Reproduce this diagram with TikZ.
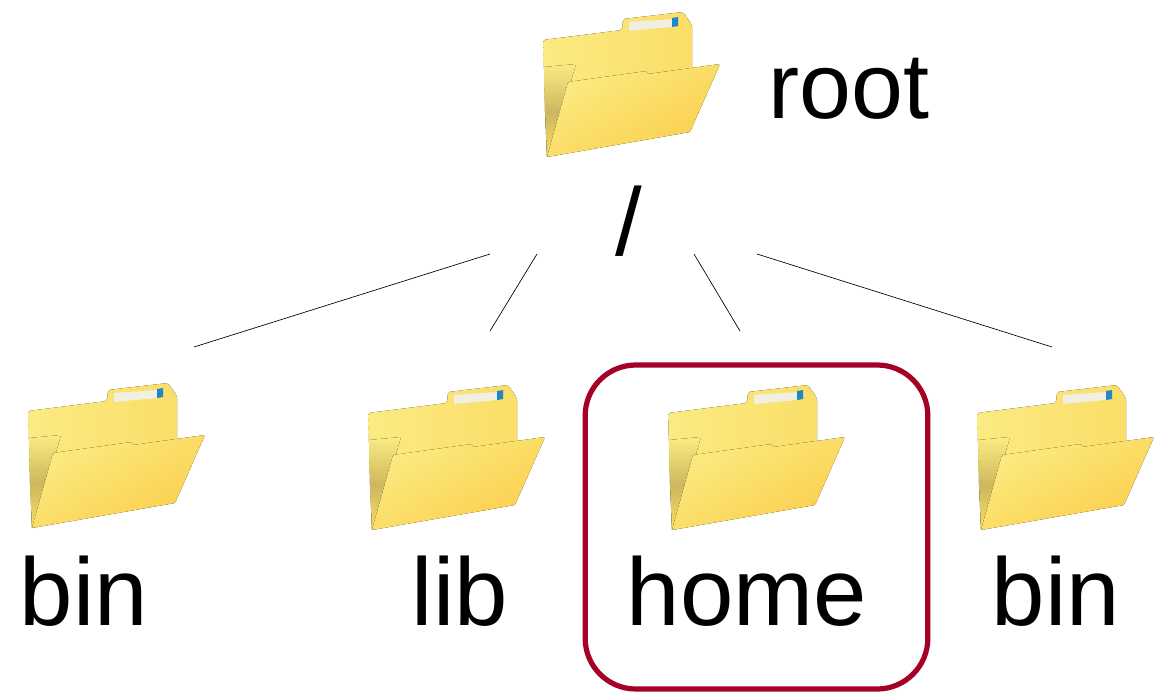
\documentclass[tikz,border=0pt]{standalone}
\usepackage{fontspec}
\setmainfont{Liberation Sans}
\definecolor{boxred}{HTML}{A50026}
\definecolor{folderlight}{HTML}{FBEB82}
\definecolor{folderback}{HTML}{FBDD68}
\definecolor{folderdark}{HTML}{FBCF4C}
\definecolor{foldershade}{HTML}{CDB75E}
\definecolor{foldertag}{HTML}{F1EFE2}
\definecolor{foldermark}{HTML}{1F86C8}
\tikzset{
  foldericon/.pic = {
    % back sheet, tab on top
    \fill [left color=folderlight, right color=folderback, rounded corners=1.5]
      (1,28) -- (80,18) -- (81,7) -- (141,0) -- (150,13) -- (150,60) -- (26,75) -- (5,145) -- cycle;
    \fill [top color=folderlight, bottom color=foldershade]
      (2,55) -- (34,52) -- (20,100) -- (3,100) -- cycle;
    \fill [top color=foldershade, bottom color=folderback]
      (3,100) -- (20,100) -- (5,145) -- cycle;
    \fill [foldertag] (87,10) -- (130,7) -- (130,15) -- (87,19) -- cycle;
    \fill [foldermark] (130,6) -- (136,5) -- (136,14) -- (130,15) -- cycle;
    % front flap
    \fill [top color=folderlight, bottom color=folderdark, shading angle=30, rounded corners=1]
      (26,70) -- (105,59) -- (106,62) -- (178,52) -- (148,120) -- (5,145) -- cycle;
  }
}
\begin{document}
\begin{tikzpicture}
   [
     x = 0.75pt,
     y = -0.75pt,
     every node/.style = {font=\fontsize{72}{84}\selectfont, inner sep=0pt, anchor=base},
     link/.style       = {draw, line width=0.5pt},
     homeframe/.style  = {draw=boxred, line width=3.9pt, rounded corners=38pt,
                          minimum width=257pt, minimum height=243pt, anchor=center}
   ]
    \useasboundingbox (0,0) rectangle (1162,693);

    \node [homeframe] (homebox) at (756.5,527) {};

    \pic at (542,12)  {foldericon};
    \pic at (27,383)  {foldericon};
    \pic at (367,385) {foldericon};
    \pic at (667,385) {foldericon};
    \pic at (976,385) {foldericon};

    \node [font=\fontsize{70}{84}\selectfont] (rootname) at (849,118) {root};
    \node (slash)    at (629,255) {/};
    \node (binleft)  at (84,625)  {bin};
    \node (lib)      at (460,625) {lib};
    \node (home)     at (747,625) {home};
    \node (binright) at (1056,625) {bin};

    \coordinate (linkA) at (490,254);
    \coordinate (linkB) at (537,254);
    \coordinate (linkC) at (694,254);
    \coordinate (linkD) at (757,254);
    \coordinate (endA)  at (194,347);
    \coordinate (endB)  at (490,331);
    \coordinate (endC)  at (740,331);
    \coordinate (endD)  at (1052,347);

    \draw [link] (linkA) -- (endA);
    \draw [link] (linkB) -- (endB);
    \draw [link] (linkC) -- (endC);
    \draw [link] (linkD) -- (endD);
\end{tikzpicture}
\end{document}
